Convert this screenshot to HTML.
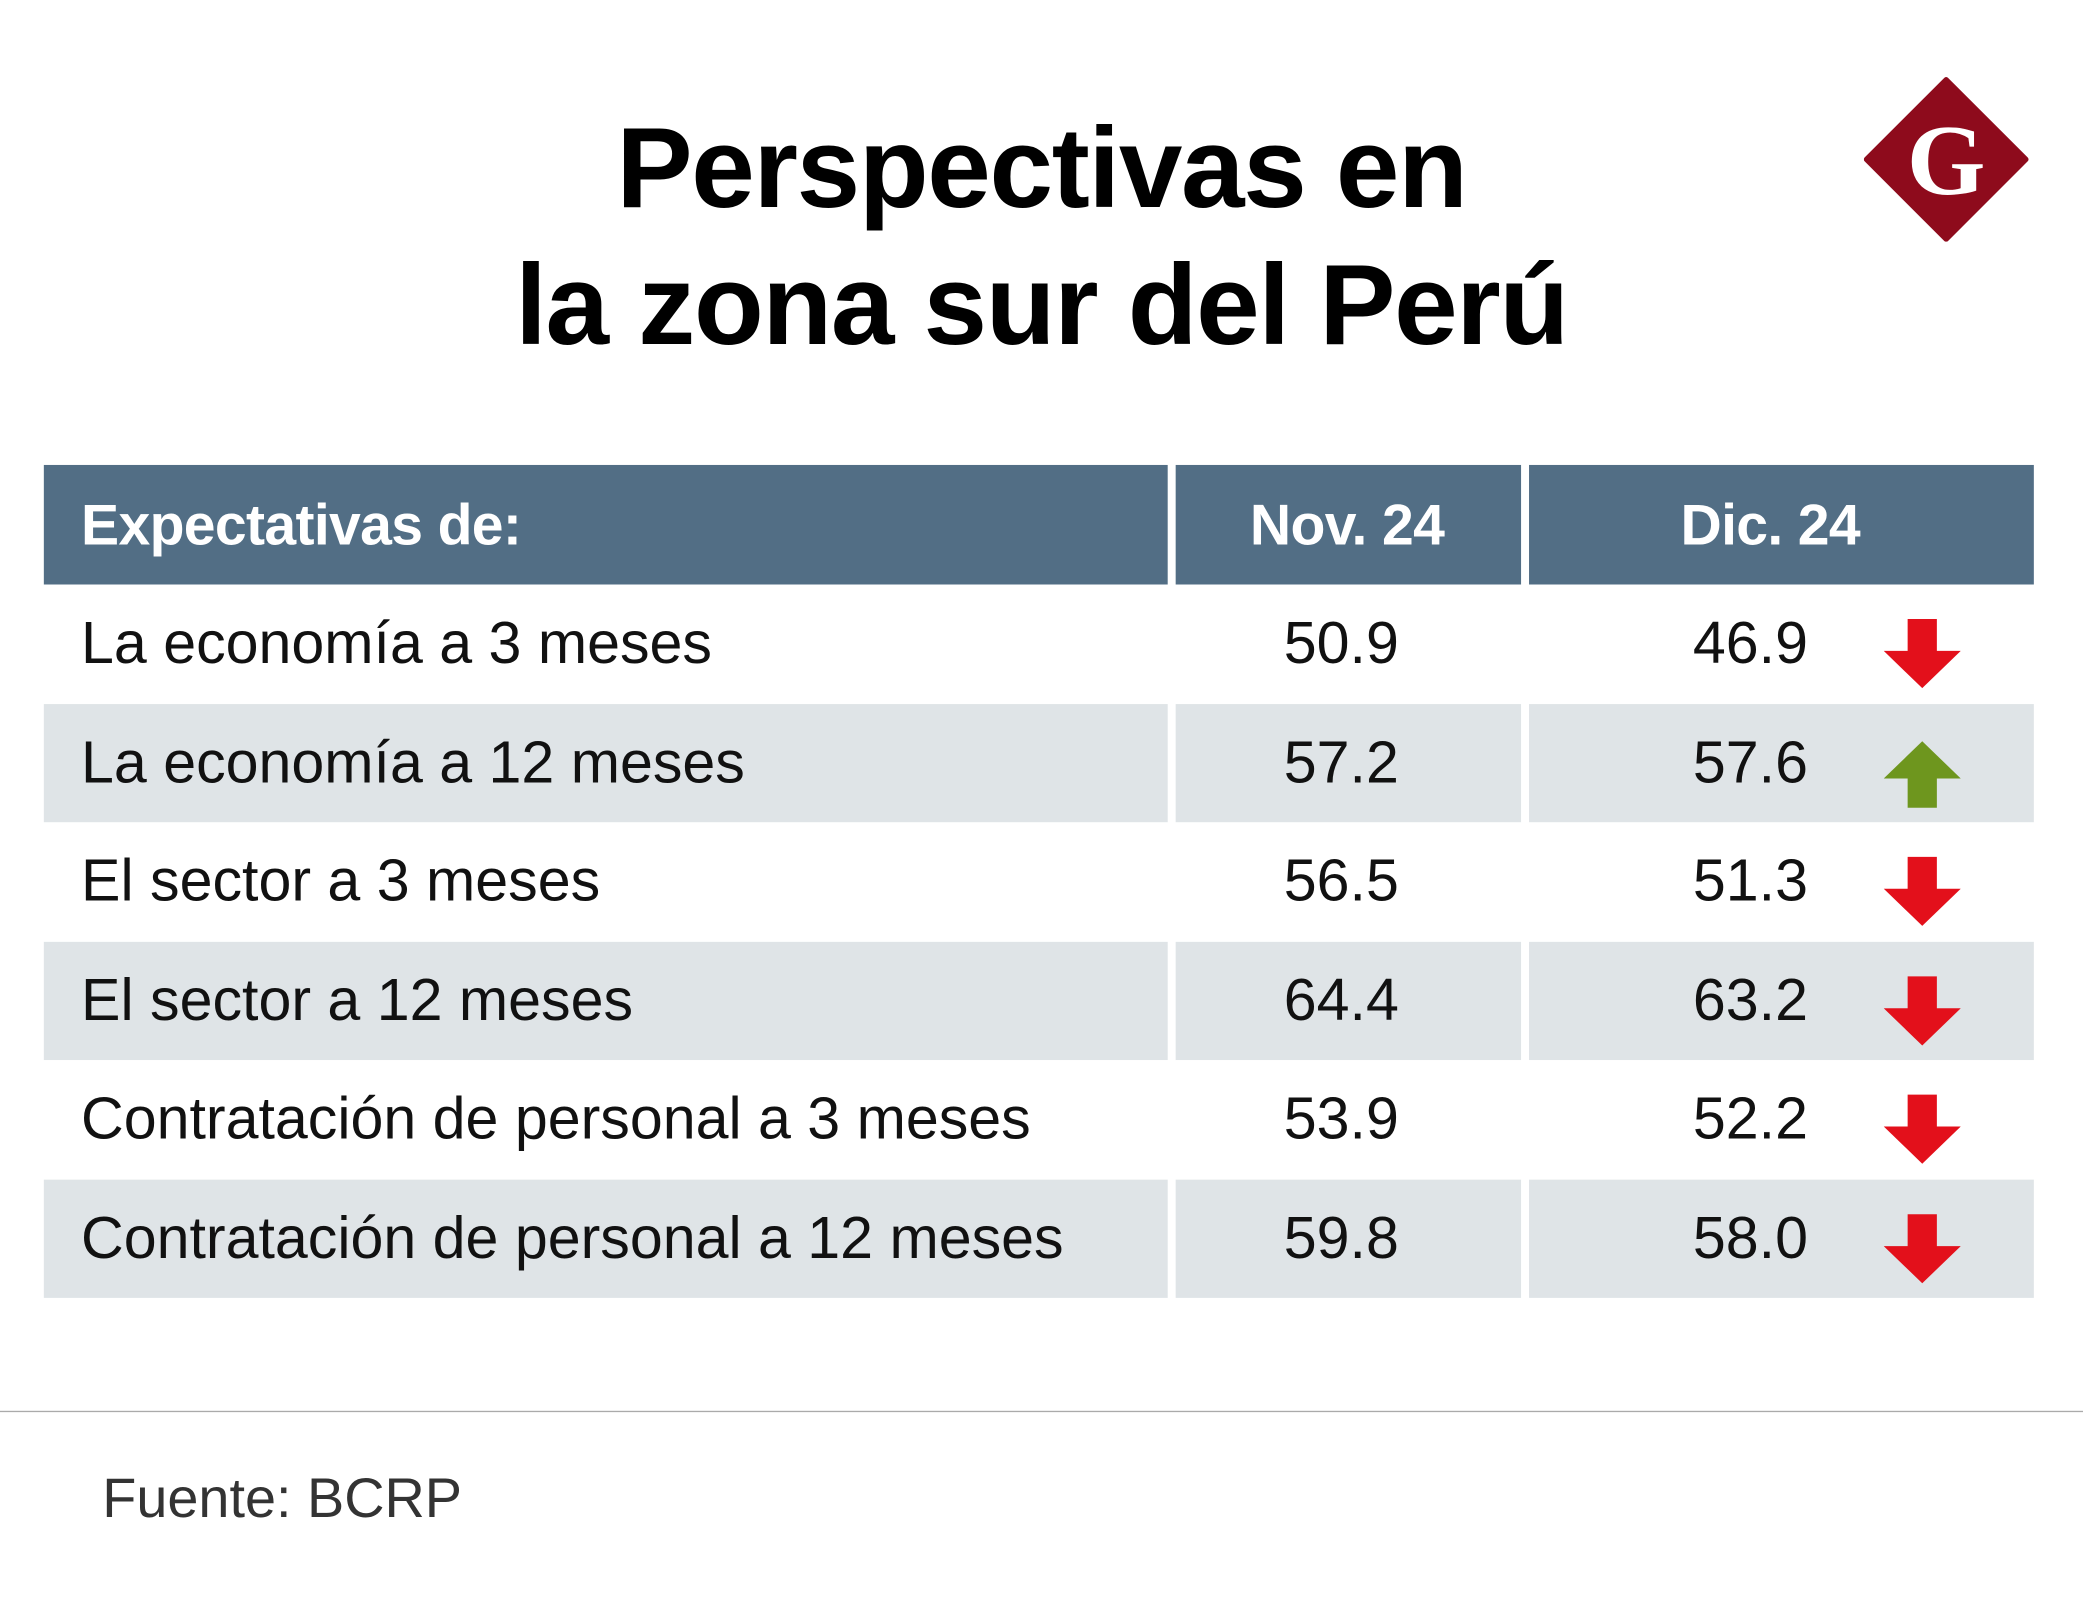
<!DOCTYPE html>
<html><head><meta charset="utf-8">
<style>
html,body{margin:0;padding:0;background:#fff;}
body{width:2083px;height:1622px;overflow:hidden;position:relative;}
#wrap{position:absolute;left:0;top:0;width:1568px;height:1221px;transform:scale(1.32844);transform-origin:0 0;font-family:"Liberation Sans",sans-serif;}
.title{position:absolute;left:0;width:1568px;text-align:center;font-weight:bold;font-size:86px;letter-spacing:-1px;color:#000;line-height:1;}
.cell{position:absolute;box-sizing:border-box;}
.hdr{background:#526e85;color:#fff;font-weight:bold;font-size:43px;letter-spacing:-0.5px;line-height:92px;}
.txt{font-size:44.5px;color:#111;line-height:90px;}
</style></head><body>
<div id="wrap">
<div class="title" style="top:84px">Perspectivas en</div>
<div class="title" style="top:187px">la zona sur del Perú</div>
<svg style="position:absolute;left:1403px;top:58px" width="124" height="124">
<polygon points="62,2 122,62 62,122 2,62" fill="#8e0b1c" stroke="#8e0b1c" stroke-width="4" stroke-linejoin="round"/>
<text x="62" y="88" text-anchor="middle" font-family="Liberation Serif,serif" font-weight="bold" font-size="76" fill="#fff">G</text>
</svg>
<div id="table"></div>
<div style="position:absolute;left:0;top:1062px;width:1568px;height:1px;background:#aaa"></div>
<div style="position:absolute;left:77px;top:1100px;font-size:42px;color:#333;line-height:56px">Fuente: BCRP</div>
</div>
<script>
const categories=["La economía a 3 meses","La economía a 12 meses","El sector a 3 meses","El sector a 12 meses","Contratación de personal a 3 meses","Contratación de personal a 12 meses"];
const nov=[50.9,57.2,56.5,64.4,53.9,59.8];
const dic=[46.9,57.6,51.3,63.2,52.2,58.0];
const headers=["Expectativas de:","Nov. 24","Dic. 24"];
const t=document.getElementById('table');
const cols=[[33,846],[885,260],[1151,380]];
function mk(cls,x,y,w,h,html,name){const d=document.createElement('div');d.className='cell '+cls;d.style.left=x+'px';d.style.top=y+'px';d.style.width=w+'px';d.style.height=h+'px';d.innerHTML=html;


t.appendChild(d);return d;}
let h0=mk('hdr',cols[0][0],350,cols[0][1],90,'','header-category');h0.style.paddingLeft='28px';h0.textContent=headers[0];
let h1=mk('hdr',cols[1][0],350,cols[1][1],90,'','header-nov');h1.style.textAlign='center';h1.style.paddingRight='2px';h1.textContent=headers[1];
let h2=mk('hdr',cols[2][0],350,cols[2][1],90,'','header-dic');h2.style.paddingLeft='114px';h2.textContent=headers[2];
const rowH=89.5;
categories.forEach((c,i)=>{
 const y=440+i*rowH;const bg=i%2?'#dfe4e7':'#fff';
 let a=mk('txt',cols[0][0],y,cols[0][1],rowH,'','row-label');a.style.background=bg;a.style.paddingLeft='28px';a.textContent=c;
 let b=mk('txt',cols[1][0],y,cols[1][1],rowH,'','nov-value');b.style.background=bg;b.style.textAlign='right';b.style.paddingRight='92px';b.textContent=nov[i].toFixed(1);
 let d=mk('txt',cols[2][0],y,cols[2][1],rowH,'','dic-value');d.style.background=bg;d.style.paddingLeft='0';
 const up=dic[i]>nov[i];
 const col=up?'#6e961e':'#e3101b';
 const pts=up?'29,2 58,30 40,30 40,52 18,52 18,30 0,30':'18,2 40,2 40,26 58,26 29,54 0,26 18,26';
 d.innerHTML='<span style="position:absolute;right:170px;top:0">'+dic[i].toFixed(1)+'</span><svg style="position:absolute;left:267px;top:'+(up?26:24)+'px" width="58" height="56"><polygon points="'+pts+'" fill="'+col+'"/></svg>';
 d.querySelector('svg');
 d.querySelector('svg');
});
</script>
</body></html>
